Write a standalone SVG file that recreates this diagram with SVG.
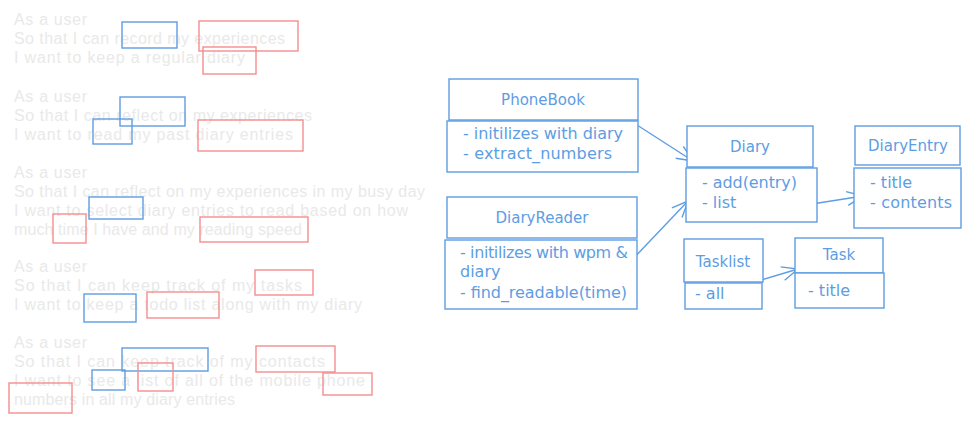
<svg xmlns="http://www.w3.org/2000/svg" width="971" height="422" viewBox="0 0 971 422">
<defs>
<style>
.story{font-family:"Liberation Sans",Arial,sans-serif;font-size:16px;fill:#e9e9e9}
.hb{fill:none;stroke:#5d9de3;stroke-width:1.4}
.hr{fill:none;stroke:#f68d8d;stroke-width:1.4}
.box{fill:#fff;stroke:#5d9de3;stroke-width:1.4}
.title{font-family:"DejaVu Sans",Verdana,sans-serif;font-size:15px;fill:#5d9de3;text-anchor:middle}
.item{font-family:"DejaVu Sans",Verdana,sans-serif;font-size:16px;fill:#5d9de3}
.conn{fill:none;stroke:#5d9de3;stroke-width:1.4}
</style>
<marker id="arr" viewBox="-18 -9 20 18" markerWidth="20" markerHeight="18" refX="0" refY="0" orient="auto" markerUnits="userSpaceOnUse">
<path d="M-16,-7 L0,0 L-16,7" fill="none" stroke="#5d9de3" stroke-width="1.4"/>
</marker>
</defs>
<rect width="971" height="422" fill="#fff"/>

<g id="story1">
<text class="story" x="14" y="24.5" textLength="73">As a user</text>
<text class="story" x="14" y="43.5" textLength="271">So that I can record my experiences</text>
<text class="story" x="14" y="62.5" textLength="231">I want to keep a regular diary</text>
<rect class="hb" x="122" y="22" width="55" height="26"/>
<rect class="hr" x="199" y="21" width="99" height="30"/>
<rect class="hr" x="203" y="47" width="53" height="27"/>
</g>
<g id="story2">
<text class="story" x="14" y="101.5" textLength="73">As a user</text>
<text class="story" x="14" y="120.5" textLength="298">So that I can reflect on my experiences</text>
<text class="story" x="14" y="139.5" textLength="279">I want to read my past diary entries</text>
<rect class="hb" x="120" y="97" width="65" height="29"/>
<rect class="hb" x="93" y="119" width="39" height="25"/>
<rect class="hr" x="198" y="120" width="105" height="31"/>
</g>
<g id="story3">
<text class="story" x="14" y="177.5" textLength="73">As a user</text>
<text class="story" x="14" y="196.5" textLength="411">So that I can reflect on my experiences in my busy day</text>
<text class="story" x="14" y="215.5" textLength="394">I want to select diary entries to read based on how</text>
<text class="story" x="14" y="234.5" textLength="288">much time I have and my reading speed</text>
<rect class="hb" x="89" y="197" width="54" height="22"/>
<rect class="hr" x="53" y="214" width="33" height="29"/>
<rect class="hr" x="200" y="217" width="108" height="25"/>
</g>
<g id="story4">
<text class="story" x="14" y="271.5" textLength="73">As a user</text>
<text class="story" x="14" y="290.5" textLength="288">So that I can keep track of my tasks</text>
<text class="story" x="14" y="309.5" textLength="348">I want to keep a todo list along with my diary</text>
<rect class="hr" x="255" y="270" width="58" height="25"/>
<rect class="hb" x="84" y="294" width="52" height="28"/>
<rect class="hr" x="147" y="292" width="72" height="26"/>
</g>
<g id="story5">
<text class="story" x="14" y="347.5" textLength="73">As a user</text>
<text class="story" x="14" y="366.5" textLength="311">So that I can keep track of my contacts</text>
<text class="story" x="14" y="385.5" textLength="351">I want to see a list of all of the mobile phone</text>
<text class="story" x="14" y="404.5" textLength="221">numbers in all my diary entries</text>
<rect class="hb" x="122" y="348" width="86" height="23"/>
<rect class="hr" x="256" y="346" width="79" height="26"/>
<rect class="hb" x="92" y="370" width="33" height="20"/>
<rect class="hr" x="138" y="363" width="35" height="28"/>
<rect class="hr" x="323" y="373" width="49" height="22"/>
<rect class="hr" x="9" y="383" width="63" height="30"/>
</g>

<g id="connectors">
<path class="conn" d="M637,125 L693,161" marker-end="url(#arr)"/>
<path class="conn" d="M630,262 L688,201" marker-end="url(#arr)"/>
<path class="conn" d="M812,204 L863,196" marker-end="url(#arr)"/>
<path class="conn" d="M758,281 L798,269" marker-end="url(#arr)"/>
</g>

<g id="PhoneBook">
<rect class="box" x="449" y="79" width="189" height="41"/>
<text class="title" x="543" y="105">PhoneBook</text>
<rect class="box" x="447" y="121" width="191" height="51"/>
<text class="item" x="463" y="139" textLength="160">- initilizes with diary</text>
<text class="item" x="463" y="159" textLength="149">- extract_numbers</text>
</g>
<g id="DiaryReader">
<rect class="box" x="447" y="197" width="190" height="41"/>
<text class="title" x="542" y="223">DiaryReader</text>
<rect class="box" x="445" y="240" width="192" height="69"/>
<text class="item" x="460" y="258" textLength="168">- initilizes with wpm &amp;</text>
<text class="item" x="460" y="277">diary</text>
<text class="item" x="460" y="298" textLength="167">- find_readable(time)</text>
</g>
<g id="Diary">
<rect class="box" x="687" y="126" width="126" height="41"/>
<text class="title" x="750" y="152">Diary</text>
<rect class="box" x="686" y="168" width="131" height="54"/>
<text class="item" x="702" y="188" textLength="95">- add(entry)</text>
<text class="item" x="702" y="208">- list</text>
</g>
<g id="DiaryEntry">
<rect class="box" x="855" y="126" width="105" height="39"/>
<text class="title" x="908" y="151">DiaryEntry</text>
<rect class="box" x="854" y="168" width="107" height="60"/>
<text class="item" x="870" y="188">- title</text>
<text class="item" x="870" y="208" textLength="82">- contents</text>
</g>
<g id="Tasklist">
<rect class="box" x="684" y="239" width="79" height="43"/>
<text class="title" x="723" y="267">Tasklist</text>
<rect class="box" x="685" y="283" width="77" height="26"/>
<text class="item" x="695" y="299">- all</text>
</g>
<g id="Task">
<rect class="box" x="795" y="238" width="88" height="35"/>
<text class="title" x="839" y="260">Task</text>
<rect class="box" x="795" y="273" width="89" height="35"/>
<text class="item" x="808" y="296">- title</text>
</g>
</svg>
